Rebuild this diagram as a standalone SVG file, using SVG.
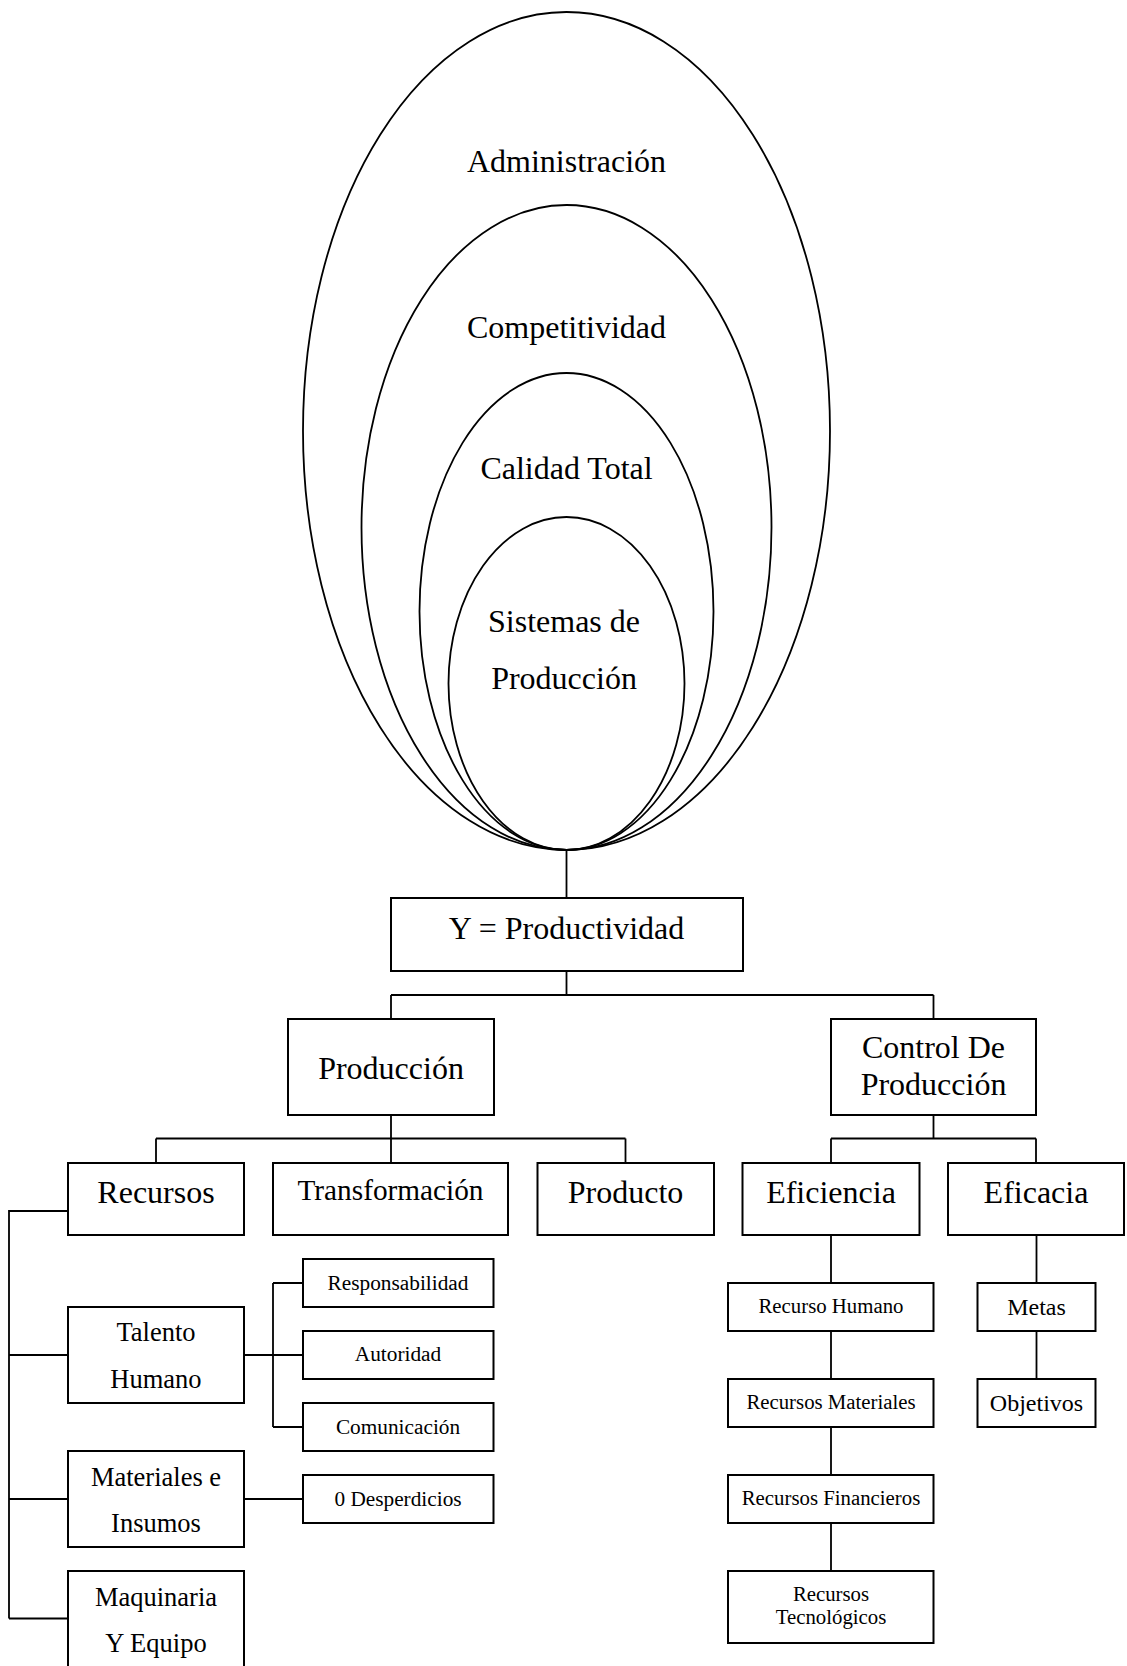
<svg xmlns="http://www.w3.org/2000/svg" width="1127" height="1666" viewBox="0 0 1127 1666">
  <style>
    .bg { fill: #ffffff; }
    .ring { fill: none; stroke: #000; stroke-width: 1.8; }
    .box { fill: #fff; stroke: #000; stroke-width: 2; }
    .wire { fill: none; stroke: #000; stroke-width: 1.8; }
    text { font-family: "Liberation Serif", "Times New Roman", serif; fill: #000; text-anchor: middle; }
    .xl { font-size: 32px; }
    .lg { font-size: 29.3px; }
    .md { font-size: 26.5px; }
    .mt { font-size: 24px; }
    .sm { font-size: 21.3px; }
    .xs { font-size: 20.8px; }
  </style>
  <rect class="bg" x="0" y="0" width="1127" height="1666"/>

  <!-- nested scopes, all touching at the base point -->
  <g id="administracion">
    <ellipse class="ring" cx="566.5" cy="431" rx="263.5" ry="419"/>
    <text class="xl" x="566.5" y="172">Administración</text>
  </g>
  <g id="competitividad">
    <ellipse class="ring" cx="566.5" cy="527.5" rx="205" ry="322.5"/>
    <text class="xl" x="566.5" y="337.5">Competitividad</text>
  </g>
  <g id="calidad-total">
    <ellipse class="ring" cx="566.5" cy="611.5" rx="147" ry="238.5"/>
    <text class="xl" x="566.5" y="478.5">Calidad Total</text>
  </g>
  <g id="sistemas-produccion">
    <ellipse class="ring" cx="566.5" cy="683.5" rx="118" ry="166.5"/>
    <text class="xl" x="564" y="632">Sistemas de</text>
    <text class="xl" x="564" y="689">Producción</text>
  </g>

  <!-- connectors -->
  <g id="connectors" class="wire">
    <path d="M566.5 850 V898"/>
    <path d="M566.5 971 V995 M391 995 H933.5 M391 995 V1019 M933.5 995 V1019"/>
    <path d="M391 1115 V1138.5 M156 1138.5 H625.5 M156 1138.5 V1163 M391 1138.5 V1163 M625.5 1138.5 V1163"/>
    <path d="M933.5 1115 V1138.5 M831 1138.5 H1036 M831 1138.5 V1163 M1036 1138.5 V1163"/>
    <path d="M68 1211 H9 V1618.5 M9 1355 H68 M9 1499 H68 M9 1618.5 H68"/>
    <path d="M244 1355 H303 M273 1283 V1427 M273 1283 H303 M273 1427 H303"/>
    <path d="M244 1499 H303"/>
    <path d="M831 1235 V1283 M831 1331 V1379 M831 1427 V1475 M831 1523 V1571"/>
    <path d="M1036.5 1235 V1283 M1036.5 1331 V1379"/>
  </g>

  <g id="productividad">
    <rect class="box" x="391" y="898" width="352" height="73"/>
    <text class="xl" x="566.5" y="938.5">Y = Productividad</text>
  </g>

  <g id="produccion">
    <rect class="box" x="288" y="1019" width="206" height="96"/>
    <text class="xl" x="391" y="1078.5">Producción</text>
  </g>
  <g id="control-produccion">
    <rect class="box" x="831" y="1019" width="205" height="96"/>
    <text class="xl" x="933.5" y="1057.5">Control De</text>
    <text class="xl" x="933.5" y="1094.5">Producción</text>
  </g>

  <g id="recursos">
    <rect class="box" x="68" y="1163" width="176" height="72"/>
    <text class="xl" x="156" y="1202.5">Recursos</text>
  </g>
  <g id="transformacion">
    <rect class="box" x="273" y="1163" width="235" height="72"/>
    <text class="lg" x="390.5" y="1199.5">Transformación</text>
  </g>
  <g id="producto">
    <rect class="box" x="537.5" y="1163" width="176.5" height="72"/>
    <text class="xl" x="625.5" y="1202.5">Producto</text>
  </g>
  <g id="eficiencia">
    <rect class="box" x="742.5" y="1163" width="177" height="72"/>
    <text class="xl" x="831" y="1202.5">Eficiencia</text>
  </g>
  <g id="eficacia">
    <rect class="box" x="948" y="1163" width="176" height="72"/>
    <text class="xl" x="1036" y="1202.5">Eficacia</text>
  </g>

  <g id="talento-humano">
    <rect class="box" x="68" y="1307" width="176" height="96"/>
    <text class="md" x="156" y="1340.5">Talento</text>
    <text class="md" x="156" y="1387.5">Humano</text>
  </g>
  <g id="materiales-insumos">
    <rect class="box" x="68" y="1451" width="176" height="96"/>
    <text class="md" x="156" y="1486">Materiales e</text>
    <text class="md" x="156" y="1531.5">Insumos</text>
  </g>
  <g id="maquinaria-equipo">
    <rect class="box" x="68" y="1571" width="176" height="120"/>
    <text class="md" x="156" y="1606">Maquinaria</text>
    <text class="md" x="156" y="1651.5">Y Equipo</text>
  </g>

  <g id="responsabilidad">
    <rect class="box" x="303" y="1259" width="190.5" height="48"/>
    <text class="sm" x="398" y="1289.5">Responsabilidad</text>
  </g>
  <g id="autoridad">
    <rect class="box" x="303" y="1331" width="190.5" height="48"/>
    <text class="sm" x="398" y="1361">Autoridad</text>
  </g>
  <g id="comunicacion">
    <rect class="box" x="303" y="1403" width="190.5" height="48"/>
    <text class="sm" x="398" y="1433.5">Comunicación</text>
  </g>
  <g id="cero-desperdicios">
    <rect class="box" x="303" y="1475" width="190.5" height="48"/>
    <text class="sm" x="398" y="1506">0 Desperdicios</text>
  </g>

  <g id="recurso-humano">
    <rect class="box" x="728" y="1283" width="205.5" height="48"/>
    <text class="xs" x="831" y="1313">Recurso Humano</text>
  </g>
  <g id="recursos-materiales">
    <rect class="box" x="728" y="1379" width="205.5" height="48"/>
    <text class="xs" x="831" y="1409">Recursos Materiales</text>
  </g>
  <g id="recursos-financieros">
    <rect class="box" x="728" y="1475" width="205.5" height="48"/>
    <text class="xs" x="831" y="1505">Recursos Financieros</text>
  </g>
  <g id="recursos-tecnologicos">
    <rect class="box" x="728" y="1571" width="205.5" height="72"/>
    <text class="xs" x="831" y="1600.5">Recursos</text>
    <text class="xs" x="831" y="1624">Tecnológicos</text>
  </g>

  <g id="metas">
    <rect class="box" x="977.5" y="1283" width="118" height="48"/>
    <text class="mt" x="1036.5" y="1315">Metas</text>
  </g>
  <g id="objetivos">
    <rect class="box" x="977.5" y="1379" width="118" height="48"/>
    <text class="mt" x="1036.5" y="1411">Objetivos</text>
  </g>
</svg>
